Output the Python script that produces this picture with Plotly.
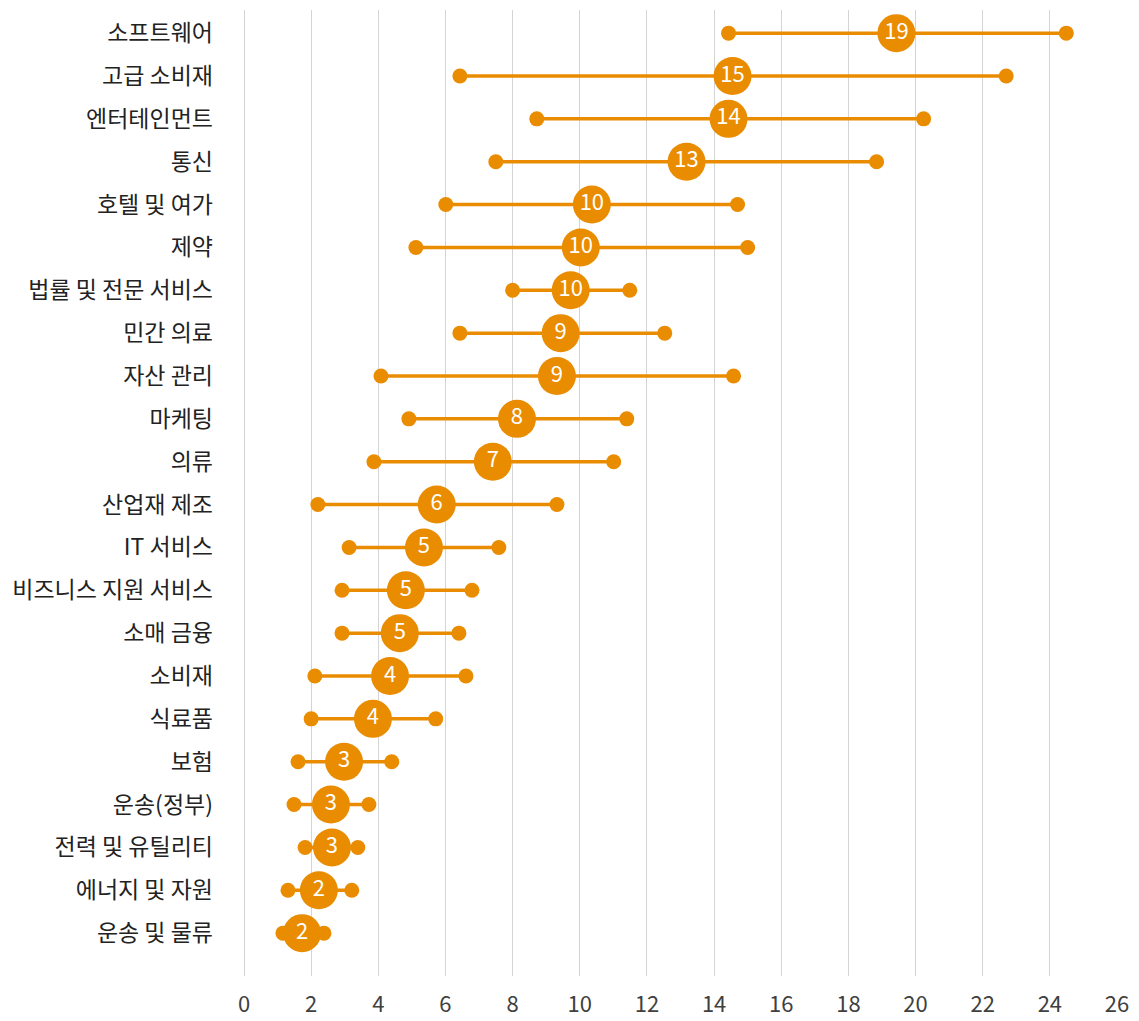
import plotly.graph_objects as go

categories = ["소프트웨어", "고급 소비재", "엔터테인먼트", "통신", "호텔 및 여가", "제약",
              "법률 및 전문 서비스", "민간 의료", "자산 관리", "마케팅", "의류", "산업재 제조",
              "IT 서비스", "비즈니스 지원 서비스", "소매 금융", "소비재", "식료품", "보험",
              "운송(정부)", "전력 및 유틸리티", "에너지 및 자원", "운송 및 물류"]
low_values = [14.43, 6.43, 8.72, 7.5, 6.01, 5.12, 8.0, 6.43, 4.08, 4.91, 3.87, 2.2,
              3.13, 2.92, 2.92, 2.11, 2.0, 1.61, 1.49, 1.82, 1.31, 1.16]
mid_values = [19.43, 14.55, 14.43, 13.18, 10.36, 10.03, 9.73, 9.43, 9.32, 8.13, 7.41, 5.74,
              5.36, 4.82, 4.64, 4.35, 3.84, 2.98, 2.59, 2.62, 2.23, 1.73]
high_values = [24.49, 22.7, 20.24, 18.84, 14.7, 15.0, 11.49, 12.53, 14.58, 11.4, 11.01, 9.32,
               7.59, 6.79, 6.4, 6.61, 5.71, 4.4, 3.72, 3.39, 3.21, 2.38]
x_ticks = list(range(0, 27, 2))

COLOR = "#EA8C00"
FONT = "Noto Sans CJK KR"

ypos = list(range(len(categories)))

lx, ly = [], []
for i, (lo, hi) in enumerate(zip(low_values, high_values)):
    lx += [lo, hi, None]
    ly += [i, i, None]

fig = go.Figure()
fig.add_trace(go.Scatter(x=lx, y=ly, mode="lines", line=dict(color=COLOR, width=3.5),
                         hoverinfo="skip", showlegend=False))
fig.add_trace(go.Scatter(x=low_values + high_values, y=ypos + ypos, mode="markers",
                         marker=dict(color=COLOR, size=15, line=dict(width=0)),
                         showlegend=False))
fig.add_trace(go.Scatter(x=mid_values, y=ypos, mode="markers+text",
                         marker=dict(color=COLOR, size=38, line=dict(width=0)),
                         text=[str(round(v)) for v in mid_values], textposition="middle center",
                         textfont=dict(color="white", size=22, family=FONT),
                         showlegend=False))

fig.update_layout(
    width=1139, height=1021,
    margin=dict(l=244, r=22, t=10, b=45),
    plot_bgcolor="white", paper_bgcolor="white",
    font=dict(family=FONT, size=23, color="#333333"),
    xaxis=dict(range=[0, 26], tickvals=x_ticks, ticktext=[str(t) for t in x_ticks],
               showgrid=True, gridcolor="#d4d4d4", gridwidth=1,
               zeroline=True, zerolinecolor="#d4d4d4", zerolinewidth=1,
               showline=False, ticks="", ticklabelstandoff=13, automargin=False,
               tickfont=dict(size=22, color="#404040", family=FONT)),
    yaxis=dict(range=[22.0, -0.54], tickvals=ypos, ticktext=categories,
               showgrid=False, zeroline=False, showline=False, ticks="",
               ticklabelstandoff=30, automargin=False,
               tickfont=dict(size=23, color="#222222", family=FONT)),
)

fig.write_html("out.html")
